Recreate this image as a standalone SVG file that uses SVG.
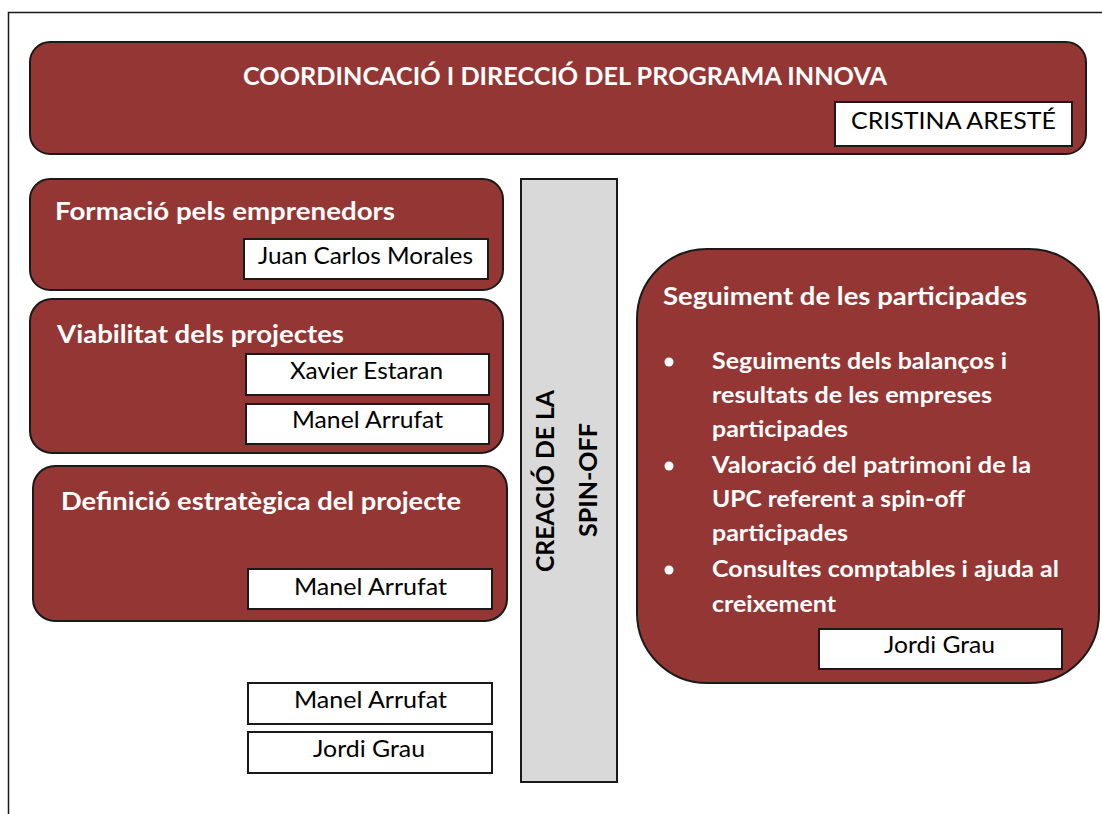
<svg xmlns="http://www.w3.org/2000/svg" width="1102" height="814" viewBox="0 0 1102 814">
<style>
.box{fill:#943634;stroke:#1a1a1a;stroke-width:2}
.name{fill:#fff;stroke:#1a1a1a;stroke-width:2}
.bar{fill:#d9d9d9;stroke:#1a1a1a;stroke-width:2}
.t{font-family:Lato,"Open Sans","Liberation Sans",sans-serif;font-weight:bold;fill:#fff;font-size:25px}
.n{font-family:Lato,"Open Sans","Liberation Sans",sans-serif;fill:#000;font-size:24px}
.v{font-family:Lato,"Open Sans","Liberation Sans",sans-serif;font-weight:bold;fill:#000;font-size:25px}
.b{font-family:Lato,"Open Sans","Liberation Sans",sans-serif;font-weight:bold;fill:#fff;font-size:23px}
</style>
<rect x="0" y="0" width="1102" height="814" fill="#fff"/>
<rect x="8.5" y="12.5" width="1200" height="900" fill="none" stroke="#1a1a1a" stroke-width="1.5"/>

<g id="coordinacio">
<rect class="box" x="30" y="42" width="1056" height="112" rx="20"/>
<text class="t" x="243" y="85" textLength="644" lengthAdjust="spacingAndGlyphs">COORDINCACIÓ I DIRECCIÓ DEL PROGRAMA INNOVA</text>
<rect class="name" x="835" y="102" width="237" height="44"/>
<text class="n" x="851" y="129" textLength="205" lengthAdjust="spacingAndGlyphs">CRISTINA ARESTÉ</text>
</g>

<g id="formacio">
<rect class="box" x="30" y="179" width="473" height="111" rx="20"/>
<text class="t" x="55" y="220" textLength="340" lengthAdjust="spacingAndGlyphs">Formació pels emprenedors</text>
<rect class="name" x="244" y="239" width="244" height="40"/>
<text class="n" x="258" y="264" textLength="215" lengthAdjust="spacingAndGlyphs">Juan Carlos Morales</text>
</g>

<g id="viabilitat">
<rect class="box" x="30" y="299" width="473" height="154" rx="22"/>
<text class="t" x="57" y="343" textLength="287" lengthAdjust="spacingAndGlyphs">Viabilitat dels projectes</text>
<rect class="name" x="246" y="354" width="243" height="41"/>
<text class="n" x="290" y="379" textLength="153" lengthAdjust="spacingAndGlyphs">Xavier Estaran</text>
<rect class="name" x="246" y="404" width="243" height="40"/>
<text class="n" x="292" y="428" textLength="151" lengthAdjust="spacingAndGlyphs">Manel Arrufat</text>
</g>

<g id="definicio">
<rect class="box" x="33" y="466" width="474" height="155" rx="22"/>
<text class="t" x="61" y="510" textLength="400" lengthAdjust="spacingAndGlyphs">Definició estratègica del projecte</text>
<rect class="name" x="248" y="569" width="244" height="40"/>
<text class="n" x="294" y="595" textLength="153" lengthAdjust="spacingAndGlyphs">Manel Arrufat</text>
</g>

<g id="persones">
<rect class="name" x="248" y="683" width="244" height="41"/>
<text class="n" x="294" y="708" textLength="153" lengthAdjust="spacingAndGlyphs">Manel Arrufat</text>
<rect class="name" x="248" y="732" width="244" height="41"/>
<text class="n" x="313" y="757" textLength="112" lengthAdjust="spacingAndGlyphs">Jordi Grau</text>
</g>

<g id="creacio">
<rect class="bar" x="521" y="179" width="96" height="603"/>
<text class="v" transform="translate(554,572) rotate(-90)" textLength="182" lengthAdjust="spacingAndGlyphs">CREACIÓ DE LA</text>
<text class="v" transform="translate(597,537) rotate(-90)" textLength="114" lengthAdjust="spacingAndGlyphs">SPIN-OFF</text>
</g>

<g id="seguiment">
<rect class="box" x="637" y="249" width="462" height="434" rx="70"/>
<text class="t" x="663" y="305" textLength="364" lengthAdjust="spacingAndGlyphs">Seguiment de les participades</text>
<circle cx="669" cy="362" r="4.5" fill="#fff"/>
<circle cx="669" cy="466" r="4.5" fill="#fff"/>
<circle cx="669" cy="570" r="4.5" fill="#fff"/>
<text class="b" x="712" y="369" textLength="295" lengthAdjust="spacingAndGlyphs">Seguiments dels balanços i</text>
<text class="b" x="712" y="403" textLength="280" lengthAdjust="spacingAndGlyphs">resultats de les empreses</text>
<text class="b" x="712" y="437" textLength="136" lengthAdjust="spacingAndGlyphs">participades</text>
<text class="b" x="712" y="473" textLength="319" lengthAdjust="spacingAndGlyphs">Valoració del patrimoni de la</text>
<text class="b" x="712" y="507" textLength="253" lengthAdjust="spacingAndGlyphs">UPC referent a spin-off</text>
<text class="b" x="712" y="541" textLength="136" lengthAdjust="spacingAndGlyphs">participades</text>
<text class="b" x="712" y="577" textLength="347" lengthAdjust="spacingAndGlyphs">Consultes comptables i ajuda al</text>
<text class="b" x="712" y="612" textLength="124" lengthAdjust="spacingAndGlyphs">creixement</text>
<rect class="name" x="819" y="629" width="243" height="40"/>
<text class="n" x="884" y="653" textLength="111" lengthAdjust="spacingAndGlyphs">Jordi Grau</text>
</g>

<g id="connectors"></g>
</svg>
